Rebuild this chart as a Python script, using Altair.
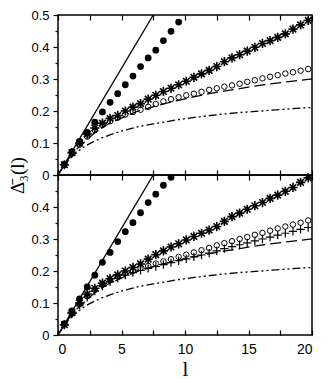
import altair as alt
import pandas as pd

# ---------------- data ----------------
L = [0.5, 1.1, 1.7, 2.3, 2.9, 3.5, 4.1, 4.7, 5.3, 5.9, 6.5, 7.1, 7.7, 8.3, 8.9, 9.5,
     10.1, 10.7, 11.3, 11.9, 12.5, 13.1, 13.7, 14.3, 14.9, 15.5, 16.1, 16.7, 17.3,
     17.9, 18.5, 19.1, 19.7]

# top panel
top_stars = [0.032, 0.070, 0.100, 0.128, 0.147, 0.162, 0.177, 0.186, 0.200, 0.212, 0.223,
             0.237, 0.249, 0.261, 0.271, 0.282, 0.293, 0.305, 0.316, 0.327, 0.339, 0.354,
             0.366, 0.376, 0.387, 0.399, 0.411, 0.420, 0.430, 0.441, 0.456, 0.469, 0.483]
top_open = [0.032, 0.068, 0.095, 0.120, 0.140, 0.156, 0.168, 0.179, 0.189, 0.197, 0.204,
            0.213, 0.222, 0.230, 0.237, 0.243, 0.249, 0.254, 0.260, 0.266, 0.271, 0.276,
            0.280, 0.285, 0.291, 0.296, 0.302, 0.307, 0.312, 0.317, 0.321, 0.326, 0.331]
top_filled = [0.033, 0.072, 0.105, 0.133, 0.165, 0.197, 0.227, 0.254, 0.282, 0.309, 0.339,
              0.366, 0.390, 0.420, 0.449, 0.478]

# bottom panel
bot_stars = [0.032, 0.070, 0.100, 0.128, 0.146, 0.162, 0.176, 0.188, 0.200, 0.211, 0.222,
             0.237, 0.251, 0.263, 0.275, 0.285, 0.297, 0.308, 0.318, 0.328, 0.339, 0.355,
             0.370, 0.381, 0.393, 0.404, 0.414, 0.427, 0.437, 0.449, 0.461, 0.477, 0.491]
bot_open = [0.033, 0.069, 0.096, 0.121, 0.141, 0.157, 0.171, 0.183, 0.193, 0.201, 0.209,
            0.216, 0.223, 0.230, 0.237, 0.244, 0.251, 0.258, 0.265, 0.272, 0.280, 0.287,
            0.293, 0.300, 0.306, 0.313, 0.319, 0.326, 0.333, 0.339, 0.345, 0.351, 0.358]
bot_plus = [0.032, 0.068, 0.094, 0.118, 0.137, 0.153, 0.166, 0.177, 0.187, 0.195, 0.202,
            0.208, 0.214, 0.220, 0.226, 0.232, 0.238, 0.244, 0.250, 0.256, 0.263, 0.270,
            0.276, 0.282, 0.288, 0.294, 0.300, 0.306, 0.312, 0.318, 0.324, 0.330, 0.336]
bot_filled = [0.035, 0.075, 0.113, 0.150, 0.187, 0.227, 0.258, 0.292, 0.323, 0.351, 0.382,
              0.414, 0.440, 0.468, 0.493]

# reference curves
line_l = [0.0, 7.5]
line_v = [0.0, 0.5]
curve_l = [0.0, 0.5, 1.0, 1.5, 2.0, 3.0, 4.0, 5.0, 6.0, 8.0, 10.0, 12.0, 14.0, 16.0, 18.0, 20.0]
dashed_v = [0.0, 0.032, 0.060, 0.082, 0.100, 0.135, 0.160, 0.178, 0.195, 0.219, 0.238,
            0.255, 0.268, 0.281, 0.291, 0.300]
dashdot_v = [0.0, 0.030, 0.053, 0.071, 0.086, 0.108, 0.124, 0.137, 0.148, 0.163, 0.176,
             0.186, 0.194, 0.200, 0.206, 0.211]

x_ticks = [0, 2.5, 5, 7.5, 10, 12.5, 15, 17.5, 20]
y_ticks = [0, 0.05, 0.1, 0.15, 0.2, 0.25, 0.3, 0.35, 0.4, 0.45, 0.5]

# ---------------- helpers ----------------
W = 254
H = 160
SANS = "Liberation Sans"
SERIF = "Liberation Serif"

STAR = "M-1,0L1,0M0,-1L0,1M-0.71,-0.71L0.71,0.71M-0.71,0.71L0.71,-0.71"
PLUS = "M-1,0L1,0M0,-1L0,1"

xscale = alt.Scale(domain=[0, 20], nice=False, zero=False)
yscale = alt.Scale(domain=[0, 0.5], nice=False)

MAJOR = "abs(datum.value*10 - round(datum.value*10)) < 0.001"


def yaxis(show_top, title=None):
    lab = "datum.value == 0 ? '0' : (" + MAJOR + " ? format(datum.value, '.1f') : '')"
    if not show_top:
        lab = "datum.value > 0.45 ? '' : (" + lab + ")"
    kw = dict(values=y_ticks, labelExpr=lab, domain=False, grid=False,
              tickColor="black", tickWidth=1.2,
              tickSize={"condition": {"test": MAJOR, "value": 5}, "value": 3},
              labelFont=SANS, labelFontSize=13, labelColor="black", labelPadding=4)
    if title is not None:
        kw.update(title=title, titleFont=SERIF, titleFontSize=19, titleFontWeight="normal",
                  titleColor="black", titleY=H, titlePadding=3)
    else:
        kw.update(title=None)
    return alt.Axis(**kw)


def tick_axis(orient):
    return alt.Axis(values=x_ticks, orient=orient, offset=-H, labels=False, domain=False,
                    grid=False, title=None, tickSize=5, tickColor="black", tickWidth=1.2,
                    minExtent=0, maxExtent=0)


def panel(stars, opens, filled, plus=None, bottom=False):
    dline = pd.DataFrame({"l": line_l, "v": line_v})
    dcurve = pd.DataFrame({"l": curve_l, "dashed": dashed_v, "dashdot": dashdot_v})
    ya = yaxis(show_top=not bottom, title=None if bottom else "\u0394\u0304\u2083(l)")

    if bottom:
        xa_main = alt.Axis(values=x_ticks, labelExpr="datum.value % 5 == 0 ? datum.value : ''",
                           ticks=False, domain=False, grid=False, labelFont=SANS,
                           labelFontSize=14, labelColor="black", labelPadding=7,
                           title="l", titleFont=SERIF, titleFontSize=21,
                           titleFontWeight="normal", titleColor="black", titlePadding=2)
    else:
        xa_main = alt.Axis(values=x_ticks, labels=False, ticks=False, domain=False,
                           grid=False, title=None, minExtent=0, maxExtent=0)

    solid = alt.Chart(dline).mark_line(color="black", strokeWidth=1.3, clip=True).encode(
        x=alt.X("l:Q", scale=xscale, axis=xa_main),
        y=alt.Y("v:Q", scale=yscale, axis=ya))
    # inward ticks on the bottom edge (top-oriented axis moved down)
    dashed = alt.Chart(dcurve).mark_line(color="black", strokeWidth=1.3, strokeDash=[11, 5],
                                         interpolate="monotone").encode(
        x=alt.X("l:Q", scale=xscale, axis=tick_axis("top")),
        y=alt.Y("dashed:Q", scale=yscale, axis=ya))
    # inward ticks on the top edge (bottom-oriented axis moved up)
    dashdot = alt.Chart(dcurve).mark_line(color="black", strokeWidth=1.3,
                                          strokeDash=[8, 3, 2, 3, 2, 3],
                                          interpolate="monotone").encode(
        x=alt.X("l:Q", scale=xscale, axis=tick_axis("bottom")),
        y=alt.Y("dashdot:Q", scale=yscale, axis=ya))

    layers = [solid, dashed, dashdot]

    dopen = pd.DataFrame({"l": L, "v": opens})
    layers.append(alt.Chart(dopen).mark_point(shape="circle", filled=False, size=30,
                                              color="black", strokeWidth=1.0, opacity=1).encode(
        x=alt.X("l:Q", scale=xscale, axis=None), y=alt.Y("v:Q", scale=yscale, axis=ya)))
    if plus is not None:
        dplus = pd.DataFrame({"l": L, "v": plus})
        layers.append(alt.Chart(dplus).mark_point(shape=PLUS, filled=False, size=70,
                                                  color="black", strokeWidth=1.2, opacity=1).encode(
            x=alt.X("l:Q", scale=xscale, axis=None), y=alt.Y("v:Q", scale=yscale, axis=ya)))
    dstar = pd.DataFrame({"l": L, "v": stars})
    layers.append(alt.Chart(dstar).mark_point(shape=STAR, filled=False, size=85,
                                              color="black", strokeWidth=1.6, opacity=1).encode(
        x=alt.X("l:Q", scale=xscale, axis=None), y=alt.Y("v:Q", scale=yscale, axis=ya)))
    dfill = pd.DataFrame({"l": L[:len(filled)], "v": filled})
    layers.append(alt.Chart(dfill).mark_point(shape="circle", filled=True, size=46,
                                              color="black", opacity=1, clip=True).encode(
        x=alt.X("l:Q", scale=xscale, axis=None), y=alt.Y("v:Q", scale=yscale, axis=ya)))

    return alt.layer(*layers).resolve_axis(x="independent").properties(width=W, height=H)


top = panel(top_stars, top_open, top_filled, bottom=False)
bot = panel(bot_stars, bot_open, bot_filled, plus=bot_plus, bottom=True)

chart = alt.vconcat(top, bot, spacing=0, bounds="flush").properties(
    padding={"left": 0, "top": 0, "right": 0, "bottom": 0}
).configure_view(stroke="black", strokeWidth=1.5)

chart.save("out.html", embed_options={"renderer": "svg", "actions": False})
